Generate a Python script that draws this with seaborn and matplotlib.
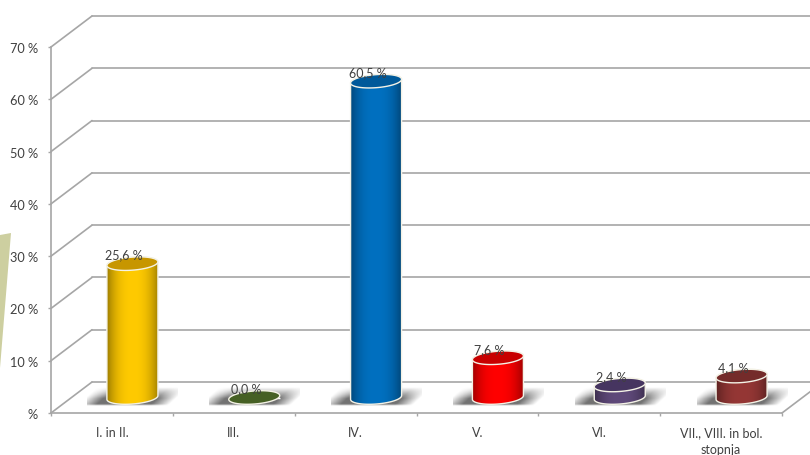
import numpy as np
import pandas as pd
import matplotlib
matplotlib.use('Agg')
import matplotlib.pyplot as plt
from matplotlib.patches import Polygon
from matplotlib.transforms import ScaledTranslation
import seaborn as sns

# Values
categories = ['I. in II.', 'III.', 'IV.', 'V.', 'VI.', 'VII., VIII. in bol.\nstopnja']
values = [25.6, 0.0, 60.5, 7.6, 2.4, 4.1]
value_labels = ['25,6 %', '0,0 %', '60,5 %', '7,6 %', '2,4 %', '4,1 %']
bar_colors = ['#FFCA00', '#4F6228', '#0070C0', '#FF0000', '#5F497A', '#953735']
top_colors = ['#C79600', '#466024', '#00599A', '#C80000', '#463560', '#742B2A']
y_ticks = [0, 10, 20, 30, 40, 50, 60, 70]
y_labels = ['%', '10 %', '20 %', '30 %', '40 %', '50 %', '60 %', '70 %']

W, H = 810, 455
GREY = '#A6A6A6'
TEXT = '#404040'
LEFT, RIGHT, Y0, Y70 = 51, 782, 413, 47
DX, DY = 41, 31  # depth of the fake 3d box
BELOW = 4  # value units kept under zero on the bar axes, for the round bases

sns.set_theme(style='white')
plt.rcParams['font.family'] = ['Lato', 'DejaVu Sans']

fig = plt.figure(figsize=(W / 100, H / 100), dpi=100, facecolor='white')
scale = (Y0 - Y70) / 70


def add_axes(shift_x=0.0, shift_y=0.0, zorder=1, below=0):
    l = (LEFT + shift_x) / W
    b = 1 - (Y0 - shift_y + below * scale) / H
    ax = fig.add_axes([l, b, (RIGHT - LEFT) / W, (Y0 - Y70 + below * scale) / H], zorder=zorder)
    ax.set_xlim(-0.5, 5.5)
    ax.set_ylim(-below, 70)
    ax.patch.set_alpha(0)
    return ax


# Pale shape cut by the left edge, and the side lines of the box
canvas = fig.add_axes([0, 0, 1, 1], zorder=0)
canvas.set_xlim(0, W)
canvas.set_ylim(H, 0)
canvas.axis('off')
canvas.add_patch(Polygon([(0, 235), (11, 233), (0, 368)], closed=True, color='#CDCFA0', lw=0))
for t in y_ticks:
    y = Y0 - t * scale
    canvas.plot([LEFT, LEFT + DX], [y, y - DY], color=GREY, lw=1.2, solid_capstyle='round')
canvas.plot([RIGHT, RIGHT + DX], [Y0, Y0 - DY], color=GREY, lw=1.2)

# Back wall with the grid lines
wall = add_axes(DX, DY, zorder=1)
wall.set_yticks(y_ticks)
wall.set_xticks([])
wall.tick_params(left=False, labelleft=False)
wall.grid(True, axis='y', color=GREY, lw=1.2)
for line in wall.get_ygridlines():
    line.set_clip_on(False)
sns.despine(ax=wall, left=True, bottom=True)

# Front axis with the ticks and labels
front = add_axes(zorder=2)
front.set_yticks(y_ticks, y_labels)
front.set_xticks(np.arange(-0.5, 6, 1), [''] * 7)
front.set_xticks(range(6), categories, minor=True)
front.tick_params(axis='y', which='major', left=True, length=2.5, width=1, color=GREY,
                  labelsize=9.2, labelcolor=TEXT, pad=7)
front.tick_params(axis='x', which='major', bottom=True, length=2.5, width=1, color=GREY)
front.tick_params(axis='x', which='minor', bottom=False, length=0, labelsize=9, labelcolor=TEXT, pad=10)
for lab in front.get_xticklabels(minor=True):
    lab.set_linespacing(1.5)
nudge = ScaledTranslation(0, -1 / 100, fig.dpi_scale_trans)
for lab in front.get_yticklabels():
    lab.set_verticalalignment('center_baseline')
    lab.set_transform(lab.get_transform() + nudge)
sns.despine(ax=front)
for side in ['left', 'bottom']:
    front.spines[side].set_color(GREY)
    front.spines[side].set_linewidth(1.2)

# Bars stand in the middle of the floor
bars = add_axes(DX / 2, DY / 2, zorder=3, below=BELOW)
df = pd.DataFrame({'category': categories, 'value': values})
sns.barplot(data=df, x='category', y='value', hue='category', palette=bar_colors,
            width=0.42, legend=False, ax=bars, zorder=3)
bars.axis('off')

sx = (RIGHT - LEFT) / 6
sy = scale
tilt = np.radians(4.5)
semi_b = 6.5


def arc(cx, cy, half_w, t0, t1, n=40):
    t = np.linspace(t0, t1, n)
    px = half_w * sx * np.cos(t)
    py = semi_b * np.sin(t)
    x = px * np.cos(tilt) - py * np.sin(tilt)
    y = px * np.sin(tilt) + py * np.cos(tilt)
    return np.column_stack([cx + x / sx, cy + y / sy])


def shadow(cx):
    # soft grey smear on the floor behind the bar
    u, v = np.meshgrid(np.linspace(-1, 1, 160), np.linspace(1, 0, 40))
    d = np.abs(u - 0.22 * (v - 0.5) * 2)
    a = np.clip((1 - d) / 0.4, 0, 1) * np.clip(v / 0.1, 0, 1) * np.clip((1 - v) / 0.6, 0, 1)
    img = np.zeros((40, 160, 4))
    img[..., :3] = 0.45
    img[..., 3] = a
    bars.imshow(img, extent=[cx - 0.37, cx + 0.37, -1.6, 1.9], aspect='auto', zorder=1,
                interpolation='bilinear')


def shade(color):
    base = np.array(matplotlib.colors.to_rgb(color))
    t = np.linspace(-1, 1, 120)
    f = 1 - 0.38 * np.abs(t) ** 2.5
    return (base[None, None, :] * f[None, :, None]).clip(0, 1)


patches = sorted(bars.patches, key=lambda p: p.get_x())
for i, patch in enumerate(patches):
    val = values[i]
    half = patch.get_width() / 2
    cx = patch.get_x() + half
    shadow(cx)
    if val > 0:
        outline = np.vstack([arc(cx, 0, half, 0, -np.pi), arc(cx, val, half, np.pi, 0)])
        body = Polygon(outline, closed=True, fc='none', ec='#F4F2E6', lw=1.0, zorder=4)
        bars.add_patch(body)
        patch.set_clip_path(body)
        im = bars.imshow(shade(bar_colors[i]), extent=[cx - half, cx + half, -BELOW, val + 2],
                         aspect='auto', zorder=3.5, interpolation='bilinear')
        im.set_clip_path(Polygon(outline, closed=True, transform=bars.transData))
    top = arc(cx, val, half, 0, 2 * np.pi, 80)
    bars.add_patch(Polygon(top, closed=True, fc=top_colors[i], ec='#F4F2E6', lw=1.0, zorder=5))
    bars.annotate(value_labels[i], (cx, val), xytext=(-8.5, 8), textcoords='offset pixels',
                  ha='center', va='center', fontsize=9, color=TEXT, zorder=6)

bars.set_xlim(-0.5, 5.5)
bars.set_ylim(-BELOW, 70)

fig.savefig('out.png', dpi=100)
